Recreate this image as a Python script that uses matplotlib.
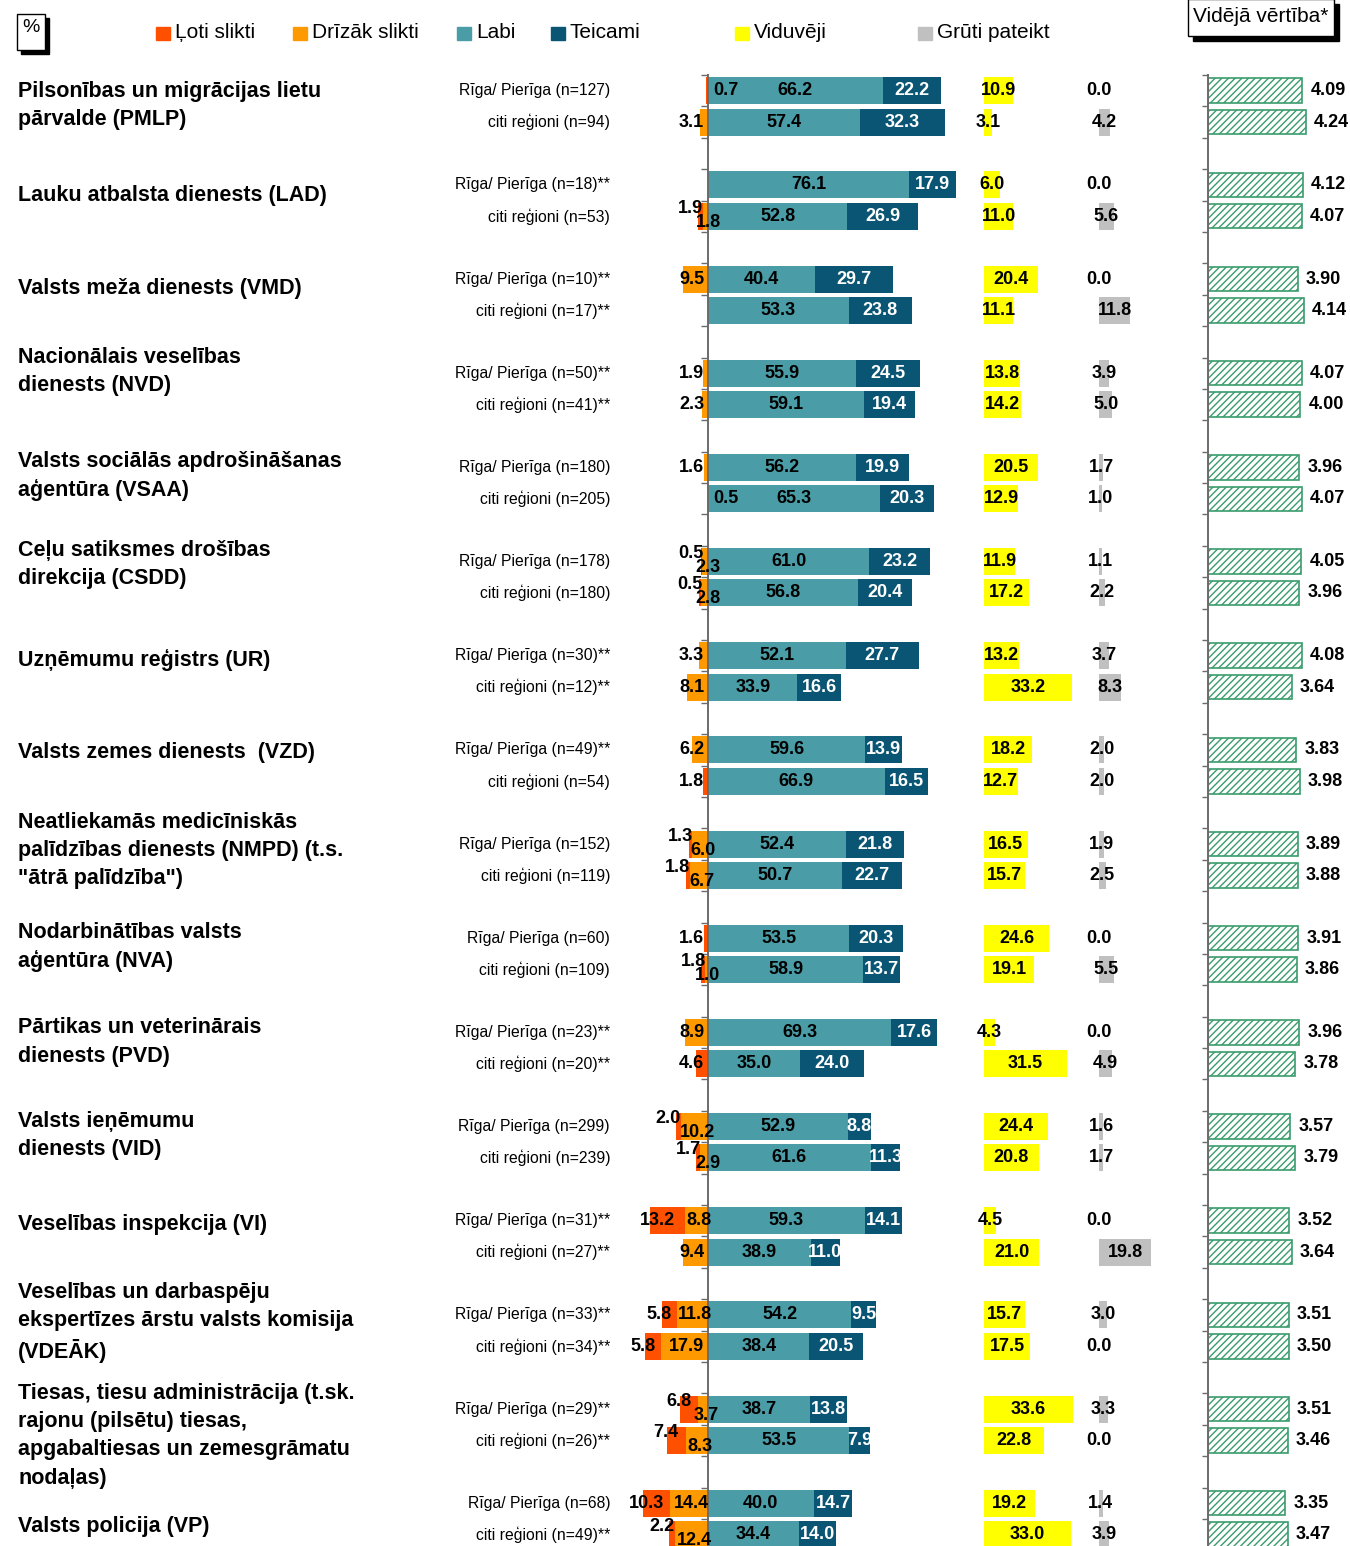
# -*- coding: utf-8 -*-
"""
Apmierinātība ar iestāžu darbu: Rīga/Pierīga pret citiem reģioniem
"""
import numpy as np
import matplotlib.pyplot as plt
import matplotlib.transforms as mtransforms
from matplotlib.patches import Rectangle

plt.rcParams['font.family'] = ['Liberation Sans', 'DejaVu Sans']

# Dati
iestades = [
    "Pilsonības un migrācijas lietu\npārvalde (PMLP)",
    "Lauku atbalsta dienests (LAD)",
    "Valsts meža dienests (VMD)",
    "Nacionālais veselības\ndienests (NVD)",
    "Valsts sociālās apdrošināšanas\naģentūra (VSAA)",
    "Ceļu satiksmes drošības\ndirekcija (CSDD)",
    "Uzņēmumu reģistrs (UR)",
    "Valsts zemes dienests  (VZD)",
    "Neatliekamās medicīniskās\npalīdzības dienests (NMPD) (t.s.\n\"ātrā palīdzība\")",
    "Nodarbinātības valsts\naģentūra (NVA)",
    "Pārtikas un veterinārais\ndienests (PVD)",
    "Valsts ieņēmumu\ndienests (VID)",
    "Veselības inspekcija (VI)",
    "Veselības un darbaspēju\nekspertīzes ārstu valsts komisija\n(VDEĀK)",
    "Tiesas, tiesu administrācija (t.sk.\nrajonu (pilsētu) tiesas,\napgabaltiesas un zemesgrāmatu\nnodaļas)",
    "Valsts policija (VP)",
]

rindas = [
    "Rīga/ Pierīga (n=127)", "citi reģioni (n=94)",
    "Rīga/ Pierīga (n=18)**", "citi reģioni (n=53)",
    "Rīga/ Pierīga (n=10)**", "citi reģioni (n=17)**",
    "Rīga/ Pierīga (n=50)**", "citi reģioni (n=41)**",
    "Rīga/ Pierīga (n=180)", "citi reģioni (n=205)",
    "Rīga/ Pierīga (n=178)", "citi reģioni (n=180)",
    "Rīga/ Pierīga (n=30)**", "citi reģioni (n=12)**",
    "Rīga/ Pierīga (n=49)**", "citi reģioni (n=54)",
    "Rīga/ Pierīga (n=152)", "citi reģioni (n=119)",
    "Rīga/ Pierīga (n=60)", "citi reģioni (n=109)",
    "Rīga/ Pierīga (n=23)**", "citi reģioni (n=20)**",
    "Rīga/ Pierīga (n=299)", "citi reģioni (n=239)",
    "Rīga/ Pierīga (n=31)**", "citi reģioni (n=27)**",
    "Rīga/ Pierīga (n=33)**", "citi reģioni (n=34)**",
    "Rīga/ Pierīga (n=29)**", "citi reģioni (n=26)**",
    "Rīga/ Pierīga (n=68)", "citi reģioni (n=49)**",
]

loti_slikti = np.array([0.7, 0, 0, 1.9, 0, 0, 0, 0, 0, 0, 0.5, 0.5, 0, 0, 0, 1.8,
                        1.3, 1.8, 1.6, 1.8, 0, 4.6, 2.0, 1.7, 13.2, 0, 5.8, 5.8,
                        6.8, 7.4, 10.3, 2.2])
drizak_slikti = np.array([0, 3.1, 0, 1.8, 9.5, 0, 1.9, 2.3, 1.6, 0.5, 2.3, 2.8, 3.3, 8.1,
                          6.2, 0, 6.0, 6.7, 0, 1.0, 8.9, 0, 10.2, 2.9, 8.8, 9.4, 11.8,
                          17.9, 3.7, 8.3, 14.4, 12.4])
labi = np.array([66.2, 57.4, 76.1, 52.8, 40.4, 53.3, 55.9, 59.1, 56.2, 65.3, 61.0, 56.8,
                 52.1, 33.9, 59.6, 66.9, 52.4, 50.7, 53.5, 58.9, 69.3, 35.0, 52.9, 61.6,
                 59.3, 38.9, 54.2, 38.4, 38.7, 53.5, 40.0, 34.4])
teicami = np.array([22.2, 32.3, 17.9, 26.9, 29.7, 23.8, 24.5, 19.4, 19.9, 20.3, 23.2, 20.4,
                    27.7, 16.6, 13.9, 16.5, 21.8, 22.7, 20.3, 13.7, 17.6, 24.0, 8.8, 11.3,
                    14.1, 11.0, 9.5, 20.5, 13.8, 7.9, 14.7, 14.0])
viduveji = np.array([10.9, 3.1, 6.0, 11.0, 20.4, 11.1, 13.8, 14.2, 20.5, 12.9, 11.9, 17.2,
                     13.2, 33.2, 18.2, 12.7, 16.5, 15.7, 24.6, 19.1, 4.3, 31.5, 24.4, 20.8,
                     4.5, 21.0, 15.7, 17.5, 33.6, 22.8, 19.2, 33.0])
gruti = np.array([0.0, 4.2, 0.0, 5.6, 0.0, 11.8, 3.9, 5.0, 1.7, 1.0, 1.1, 2.2, 3.7, 8.3,
                  2.0, 2.0, 1.9, 2.5, 0.0, 5.5, 0.0, 4.9, 1.6, 1.7, 0.0, 19.8, 3.0, 0.0,
                  3.3, 0.0, 1.4, 3.9])
videja = np.array([4.09, 4.24, 4.12, 4.07, 3.90, 4.14, 4.07, 4.00, 3.96, 4.07, 4.05, 3.96,
                   4.08, 3.64, 3.83, 3.98, 3.89, 3.88, 3.91, 3.86, 3.96, 3.78, 3.57, 3.79,
                   3.52, 3.64, 3.51, 3.50, 3.51, 3.46, 3.35, 3.47])

# Izkārtojums (pikseļos)
W, H = 1350, 1546
TOP = 75
PX = 2.64            # px uz procentpunktu
X0 = 708             # nulles līnija
OFF_Y = (984 - X0) / PX
OFF_G = (1099 - X0) / PX
nobide_virsraksti = [-1, -5, -6, -17, -7, -13, -11, -13, -9, -7, -6, -7, -12, -8, 11, 8]

C_LOTI = '#FF5000'
C_DRIZ = '#FF9900'
C_LABI = '#4A9DA6'
C_TEIC = '#0A5573'
C_VID = '#FFFF00'
C_GRUT = '#C0C0C0'
C_ASS = '#6b6b6b'
C_ZALS = '#3a9c6c'

pos = np.array([3 * g + j for g in range(len(iestades)) for j in (0, 1)])
n_pos = (H - TOP) / 31.39 - 0.5

fig = plt.figure(figsize=(W / 100, H / 100), dpi=100)
ax = fig.add_axes([630 / W, 0, 550 / W, 1 - TOP / H])
ax.set_xlim((630 - X0) / PX, (1180 - X0) / PX)
ax.set_ylim(n_pos, -0.5)

bh = 0.86
ax.barh(pos, drizak_slikti, left=-drizak_slikti, height=bh, color=C_DRIZ)
ax.barh(pos, loti_slikti, left=-(drizak_slikti + loti_slikti), height=bh, color=C_LOTI)
ax.barh(pos, labi, left=0, height=bh, color=C_LABI)
ax.barh(pos, teicami, left=labi, height=bh, color=C_TEIC)
ax.barh(pos, viduveji, left=OFF_Y, height=bh, color=C_VID)
ax.barh(pos, gruti, left=OFF_G, height=bh, color=C_GRUT)

for s in ['top', 'right', 'bottom']:
    ax.spines[s].set_visible(False)
ax.spines['left'].set_position(('data', 0))
ax.spines['left'].set_color(C_ASS)
ax.spines['left'].set_linewidth(1.4)
ax.set_xticks([])
ax.set_yticks(np.arange(-0.5, n_pos, 1))
ax.set_yticklabels([])
ax.tick_params(axis='y', length=5, width=1, color=C_ASS)

FS = 13


def uzraksts(a, x, y, s, color='black', ha='center', dy=0):
    tr = a.transData + mtransforms.ScaledTranslation(0, -dy / 100, fig.dpi_scale_trans)
    a.text(x, y, s, transform=tr, ha=ha, va='center', fontsize=FS,
           fontweight='bold', color=color, clip_on=False)


for i, p in enumerate(pos):
    r, o = loti_slikti[i], drizak_slikti[i]
    if r > 0 and o > 0:
        co = min(0, 1.5 - 0.55 * o)
        cr = -o - r / 2 - 3.8
        stag = (co - cr) < 13
        uzraksts(ax, cr, p, f"{r:.1f}", dy=-8 if stag else 0)
        uzraksts(ax, co, p, f"{o:.1f}", dy=6 if stag else 0)
    elif r > 0 or o > 0:
        v = max(r, o)
        if v < 1:
            uzraksts(ax, 1.9, p, f"{v:.1f}", ha='left')
        else:
            uzraksts(ax, -1.5, p, f"{v:.1f}", ha='right')
    uzraksts(ax, labi[i] / 2, p, f"{labi[i]:.1f}")
    uzraksts(ax, labi[i] + teicami[i] / 2, p, f"{teicami[i]:.1f}", color='white')
    uzraksts(ax, OFF_Y + viduveji[i] / 2, p, f"{viduveji[i]:.1f}")
    uzraksts(ax, OFF_G + gruti[i] / 2, p, f"{gruti[i]:.1f}")

# rindu nosaukumi un iestāžu nosaukumi
tr_rind = mtransforms.blended_transform_factory(fig.transFigure, ax.transData)
for i, p in enumerate(pos):
    ax.text(610 / W, p, rindas[i], transform=tr_rind, ha='right', va='center',
            fontsize=11.3, clip_on=False)
for g, nos in enumerate(iestades):
    tr = tr_rind + mtransforms.ScaledTranslation(0, -nobide_virsraksti[g] / 100,
                                                 fig.dpi_scale_trans)
    ax.text(18 / W, 3 * g + 0.5, nos, transform=tr, ha='left', va='center',
            fontsize=15.5, fontweight='bold', linespacing=1.45, clip_on=False)

# vidējā vērtība
ax2 = fig.add_axes([1208 / W, 0, 142 / W, 1 - TOP / H])
ax2.set_xlim(0, 142 / 23.07)
ax2.set_ylim(n_pos, -0.5)
ax2.barh(pos, videja, height=0.78, facecolor='white', edgecolor=C_ZALS,
         hatch='/////', linewidth=1.2)
for s in ['top', 'right', 'bottom']:
    ax2.spines[s].set_visible(False)
ax2.spines['left'].set_color(C_ASS)
ax2.spines['left'].set_linewidth(1.4)
ax2.set_xticks([])
ax2.set_yticks(np.arange(-0.5, n_pos, 1))
ax2.set_yticklabels([])
ax2.tick_params(axis='y', length=4, width=1, color=C_ASS)
for i, p in enumerate(pos):
    uzraksts(ax2, videja[i] + 8 / 23.07, p, f"{videja[i]:.2f}", ha='left')

# leģenda
leg = [(156, "Ļoti slikti", C_LOTI), (293, "Drīzāk slikti", C_DRIZ),
       (457, "Labi", C_LABI), (551, "Teicami", C_TEIC),
       (735, "Viduvēji", C_VID), (918, "Grūti pateikt", C_GRUT)]
for x, t, c in leg:
    fig.add_artist(Rectangle((x / W, 1 - 40 / H), 14 / W, 13 / H,
                             transform=fig.transFigure, color=c))
    fig.text((x + 19) / W, 1 - 32 / H, t, ha='left', va='center', fontsize=15)

# "%" un "Vidējā vērtība*" rāmji
fig.add_artist(Rectangle((21 / W, 1 - 54 / H), 28 / W, 36 / H,
                         transform=fig.transFigure, color='black'))
fig.add_artist(Rectangle((17 / W, 1 - 50 / H), 28 / W, 36 / H,
                         transform=fig.transFigure, facecolor='white',
                         edgecolor='black', linewidth=1))
fig.text(31 / W, 1 - 27 / H, "%", ha='center', va='center', fontsize=14)

fig.add_artist(Rectangle((1193 / W, 1 - 41 / H), 146 / W, 37 / H,
                         transform=fig.transFigure, color='black'))
fig.add_artist(Rectangle((1188 / W, 1 - 36 / H), 146 / W, 37 / H,
                         transform=fig.transFigure, facecolor='white',
                         edgecolor='black', linewidth=1))
fig.text(1261 / W, 1 - 16 / H, "Vidējā vērtība*", ha='center', va='center', fontsize=15)

plt.savefig('out.png', dpi=100)
